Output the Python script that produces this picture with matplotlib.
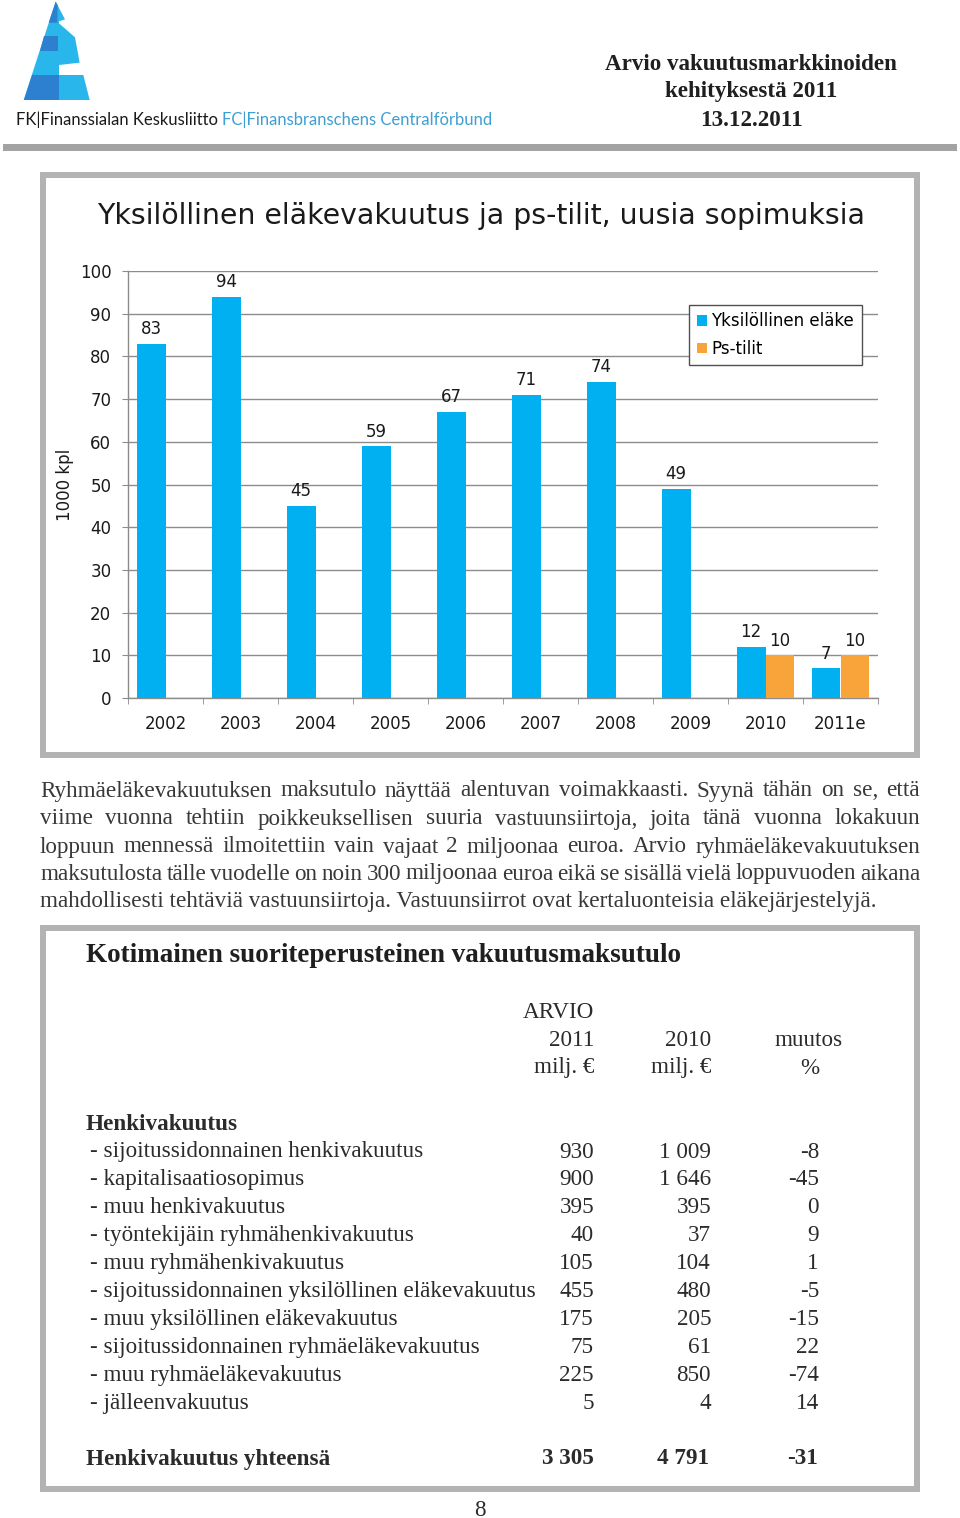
import matplotlib
matplotlib.use('Agg')
import matplotlib.pyplot as plt
import numpy as np
from matplotlib.patches import Rectangle, Polygon

# ---------------- data ----------------
years = ['2002', '2003', '2004', '2005', '2006', '2007', '2008', '2009', '2010', '2011e']
yksilollinen = [83, 94, 45, 59, 67, 71, 74, 49, 12, 7]
ps_tilit = [0, 0, 0, 0, 0, 0, 0, 0, 10, 10]

chart_title = 'Yksilöllinen eläkevakuutus ja ps-tilit, uusia sopimuksia'
series_names = ['Yksilöllinen eläke', 'Ps-tilit']
y_label = '1000 kpl'

header_lines = ['Arvio vakuutusmarkkinoiden', 'kehityksestä 2011', '13.12.2011']
logo_dark = 'FK|Finanssialan Keskusliitto'
logo_blue = 'FC|Finansbranschens Centralförbund'

paragraph = [
    'Ryhmäeläkevakuutuksen maksutulo näyttää alentuvan voimakkaasti. Syynä tähän on se, että',
    'viime vuonna tehtiin poikkeuksellisen suuria vastuunsiirtoja, joita tänä vuonna lokakuun',
    'loppuun mennessä ilmoitettiin vain vajaat 2 miljoonaa euroa. Arvio ryhmäeläkevakuutuksen',
    'maksutulosta tälle vuodelle on noin 300 miljoonaa euroa eikä se sisällä vielä loppuvuoden aikana',
    'mahdollisesti tehtäviä vastuunsiirtoja. Vastuunsiirrot ovat kertaluonteisia eläkejärjestelyjä.',
]

table_title = 'Kotimainen suoriteperusteinen vakuutusmaksutulo'
section = 'Henkivakuutus'
row_labels = [
    '- sijoitussidonnainen henkivakuutus',
    '- kapitalisaatiosopimus',
    '- muu henkivakuutus',
    '- työntekijäin ryhmähenkivakuutus',
    '- muu ryhmähenkivakuutus',
    '- sijoitussidonnainen yksilöllinen eläkevakuutus',
    '- muu yksilöllinen eläkevakuutus',
    '- sijoitussidonnainen ryhmäeläkevakuutus',
    '- muu ryhmäeläkevakuutus',
    '- jälleenvakuutus',
]
v2011 = ['930', '900', '395', '40', '105', '455', '175', '75', '225', '5']
v2010 = ['1 009', '1 646', '395', '37', '104', '480', '205', '61', '850', '4']
muutos = ['-8', '-45', '0', '9', '1', '-5', '-15', '22', '-74', '14']
total_label = 'Henkivakuutus yhteensä'
total_vals = ['3 305', '4 791', '-31']
page_no = '8'

# ---------------- styles ----------------
W, H = 960, 1518
SERIF = 'Liberation Serif'
SANS = 'DejaVu Sans'
BLUE = '#00b0f0'
ORANGE = '#f9a33b'
GRID = '#8c8c8c'
BORDER = '#b3b3b3'
DY = 2  # baseline tweak for serif text

fig = plt.figure(figsize=(W / 100, H / 100), dpi=100)
fig.patch.set_facecolor('white')
bg = fig.add_axes([0, 0, 1, 1])
bg.set_xlim(0, W)
bg.set_ylim(H, 0)
bg.axis('off')

renderer = fig.canvas.get_renderer()


def twidth(t):
    return t.get_window_extent(renderer=renderer).width


def fit(t, target):
    t.set_fontsize(t.get_fontsize() * target / twidth(t))
    return t.get_fontsize()


# ---------------- logo ----------------
def z(pts):
    return [(x / 3 + 15, y / 3) for x, y in pts]

LIGHT = '#29b6ea'
DARK = '#2d7fcf'
sil = z([(122, 5), (150, 58), (132, 64), (132, 70), (180, 112), (194, 188), (132, 195),
         (132, 225), (205, 225), (224, 300), (26, 300)])
bg.add_patch(Polygon(sil, closed=True, fc=LIGHT, ec='none'))
bg.add_patch(Polygon(z([(122, 5), (128, 15), (127, 68), (101, 68)]), closed=True, fc=DARK, ec='none'))
bg.add_patch(Polygon(z([(88, 108), (128, 108), (128, 152), (75, 152)]), closed=True, fc=DARK, ec='none'))
bg.add_patch(Polygon(z([(50, 225), (132, 225), (132, 300), (26, 300)]), closed=True, fc=DARK, ec='none'))

LOGO_FONT = 'Lato'
tfull = bg.text(16, 120, logo_dark + ' ' + logo_blue, family=LOGO_FONT, fontsize=10,
                ha='left', va='center')
fs_logo = fit(tfull, 478)
tfull.remove()
t1 = bg.text(16, 120, logo_dark, family=LOGO_FONT, fontsize=fs_logo, ha='left',
             va='center', color='#1a1a1a')
w1 = twidth(t1)
bg.text(16 + w1 + fs_logo * 0.35, 120, logo_blue, family=LOGO_FONT, fontsize=fs_logo,
        ha='left', va='center', color='#3d9fd3')

# header right
th = bg.text(751, 62 + DY, header_lines[0], family=SERIF, weight='bold', fontsize=16,
             ha='center', va='center', color='#1f1f1f')
fs_head = fit(th, 294)
for yy, s in zip([90, 118], header_lines[1:]):
    bg.text(751, yy + DY, s, family=SERIF, weight='bold', fontsize=fs_head, ha='center',
            va='center', color='#1f1f1f')

bg.add_patch(Rectangle((3, 144), 954, 7, fc='#a3a3a3', ec='none'))

# ---------------- chart box ----------------
bg.add_patch(Rectangle((43, 175), 874, 580, fc='white', ec=BORDER, lw=6 * 0.72))
tt = bg.text(481, 216, chart_title, family=SANS, fontsize=19, ha='center', va='center',
             color='#1a1a1a')
fit(tt, 770)
bg.text(65, 485, y_label, family=SANS, fontsize=12, rotation=90, ha='center', va='center',
        color='#1a1a1a')

ax = fig.add_axes([128 / W, 1 - 698 / H, 750 / W, (698 - 271) / H])
x = np.arange(len(years))
bw = 0.385
ax.bar(x - bw / 2, yksilollinen, bw, color=BLUE, label=series_names[0], zorder=3)
ax.bar(x + bw / 2, ps_tilit, bw, color=ORANGE, label=series_names[1], zorder=3)
for xi, v in zip(x, yksilollinen):
    if v > 0:
        ax.annotate(str(v), (xi - bw / 2, v), xytext=(0, 4), textcoords='offset points',
                    ha='center', va='bottom', fontsize=12, family=SANS, color='#1a1a1a')
for xi, v in zip(x, ps_tilit):
    if v > 0:
        ax.annotate(str(v), (xi + bw / 2, v), xytext=(0, 4), textcoords='offset points',
                    ha='center', va='bottom', fontsize=12, family=SANS, color='#1a1a1a')

ax.set_xlim(-0.5, len(years) - 0.5)
ax.set_ylim(0, 100)
ax.set_yticks(range(0, 101, 10))
ax.set_xticks(x)
ax.set_xticklabels(years)
ax.set_xticks(np.arange(-0.5, len(years), 1), minor=True)
ax.yaxis.grid(True, color=GRID, lw=1)
ax.set_axisbelow(True)
for s in ['top', 'right']:
    ax.spines[s].set_visible(False)
for s in ['left', 'bottom']:
    ax.spines[s].set_color(GRID)
    ax.spines[s].set_linewidth(1)
ax.tick_params(axis='y', length=4, color=GRID, labelsize=12, pad=8, labelcolor='#1a1a1a')
ax.tick_params(axis='x', which='major', length=0, labelsize=12, pad=12, labelcolor='#1a1a1a')
ax.tick_params(axis='x', which='minor', length=4, color=GRID)
for lab in ax.get_xticklabels() + ax.get_yticklabels():
    lab.set_family(SANS)
ax.set_facecolor('none')

leg = ax.legend(loc='upper left', bbox_to_anchor=(689 / W, 1 - 305 / H),
                bbox_transform=fig.transFigure, frameon=True, fancybox=False,
                edgecolor='#505050', handlelength=0.6, handleheight=0.6,
                handletextpad=0.3, labelspacing=0.55, borderpad=0.45, borderaxespad=0,
                prop={'family': SANS, 'size': 12})
leg.get_frame().set_linewidth(1)
leg.get_frame().set_alpha(1)

# ---------------- paragraph ----------------
PCOL = '#383838'
tp = bg.text(40, 900, paragraph[-1], family=SERIF, fontsize=14, ha='left', va='center')
fs_p = fit(tp, 839)
tp.remove()
py = [789, 817, 845, 872, 900]
for li, (line, yy) in enumerate(zip(paragraph, py)):
    yy = yy + DY
    if li == len(paragraph) - 1:
        bg.text(40, yy, line, family=SERIF, fontsize=fs_p, ha='left', va='center', color=PCOL)
        continue
    words = line.split(' ')
    ts = [bg.text(0, yy, w, family=SERIF, fontsize=fs_p, ha='left', va='center', color=PCOL)
          for w in words]
    ws = [twidth(t) for t in ts]
    gap = (880 - sum(ws)) / (len(words) - 1)
    xx = 40
    for t, w in zip(ts, ws):
        t.set_x(xx)
        xx += w + gap

# ---------------- table ----------------
TCOL = '#2b2b2b'
bg.add_patch(Rectangle((43, 928), 874, 561, fc='white', ec=BORDER, lw=6 * 0.72))
ttl = bg.text(86, 953 + DY, table_title, family=SERIF, weight='bold', fontsize=18, ha='left',
              va='center', color='#1f1f1f')
fit(ttl, 593)
tr = bg.text(90, 1290, row_labels[5], family=SERIF, fontsize=15, ha='left', va='center')
fs_t = fit(tr, 448)
tr.remove()

C1, C2, C3, C3h = 594, 711, 819, 809
kw = dict(family=SERIF, fontsize=fs_t, va='center', color=TCOL)
bg.text(C1, 1010 + DY, 'ARVIO', ha='right', **kw)
bg.text(C1, 1038 + DY, '2011', ha='right', **kw)
bg.text(C1, 1066 + DY, 'milj. €', ha='right', **kw)
bg.text(C2, 1038 + DY, '2010', ha='right', **kw)
bg.text(C2, 1066 + DY, 'milj. €', ha='right', **kw)
bg.text(C3h, 1038 + DY, 'muutos', ha='center', **kw)
bg.text(C3h + 1, 1066 + DY, '%', ha='center', **kw)

bg.text(86, 1122 + DY, section, ha='left', weight='bold', **kw)
for i, (lab, a, b, c) in enumerate(zip(row_labels, v2011, v2010, muutos)):
    yy = 1150 + 27.9 * i + DY
    bg.text(90, yy, lab, ha='left', **kw)
    bg.text(C1, yy, a, ha='right', **kw)
    bg.text(C2, yy, b, ha='right', **kw)
    bg.text(C3, yy, c, ha='right', **kw)

bg.text(86, 1457 + DY, total_label, ha='left', weight='bold', **kw)
for cx, v in zip([C1, C2 - 2, C3 - 1], total_vals):
    bg.text(cx, 1457 + DY, v, ha='right', weight='bold', **kw)

bg.text(480, 1516, page_no, family=SERIF, fontsize=fs_t, ha='center', va='baseline', color=TCOL)

fig.savefig('out.png', dpi=100, facecolor='white')
